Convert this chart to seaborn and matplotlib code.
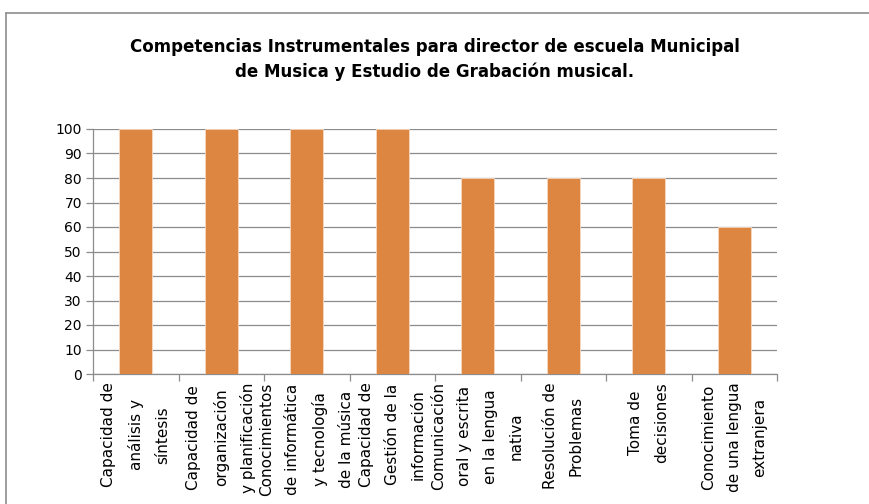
import matplotlib
matplotlib.use('Agg')
import matplotlib.pyplot as plt
import seaborn as sns
from matplotlib.lines import Line2D

categories = [
    'Capacidad de\nanálisis y\nsíntesis',
    'Capacidad de\norganización\ny planificación',
    'Conocimientos\nde informática\ny tecnología\nde la música',
    'Capacidad de\nGestión de la\ninformación',
    'Comunicación\noral y escrita\nen la lengua\nnativa',
    'Resolución de\nProblemas',
    'Toma de\ndecisiones',
    'Conocimiento\nde una lengua\nextranjera',
]
values = [100, 100, 100, 100, 80, 80, 80, 60]
yticks = list(range(0, 101, 10))

sns.set_style('white')
plt.rcParams['font.family'] = ['DejaVu Sans']
plt.rcParams['text.color'] = 'black'
plt.rcParams['xtick.color'] = 'black'
plt.rcParams['ytick.color'] = 'black'

fig = plt.figure(figsize=(8.69, 5.04), dpi=100)
ax = fig.add_axes([93 / 869, 1 - 374 / 504, (777 - 93) / 869, (374 - 129) / 504])

sns.barplot(x=list(range(len(values))), y=values, color='#DD8641', saturation=1,
            width=0.39, edgecolor='#F6D9C0', linewidth=0.6, ax=ax, zorder=3)

ax.set_ylim(0, 100)
ax.set_xlim(-0.5, len(values) - 0.5)
ax.set_yticks(yticks)
ax.set_yticklabels([str(t) for t in yticks], fontsize=10)
ax.yaxis.grid(True, color='#8C8C8C', linewidth=0.9, zorder=0)
ax.set_axisbelow(True)

# category labels, tick marks at category boundaries
ax.set_xticks(range(len(values)))
ax.set_xticklabels(categories, rotation=90, ha='center', va='top',
                   fontsize=11, linespacing=1.9, multialignment='center')
ax.tick_params(axis='x', which='major', bottom=True, length=0, pad=6)
ax.set_xticks([i - 0.5 for i in range(len(values) + 1)], minor=True)
ax.tick_params(axis='x', which='minor', bottom=True, length=5,
               color='#8C8C8C', width=0.9)
ax.tick_params(axis='y', length=5, color='#8C8C8C', labelcolor='black',
               width=0.9, left=True, pad=3)

for s in ['top', 'right']:
    ax.spines[s].set_visible(False)
for s in ['left', 'bottom']:
    ax.spines[s].set_color('#8C8C8C')
    ax.spines[s].set_linewidth(0.9)
ax.set_xlabel('')
ax.set_ylabel('')

fig.text(0.5, 1 - 47 / 504, 'Competencias Instrumentales para director de escuela Municipal',
         ha='center', va='center', fontsize=12, fontweight='bold')
fig.text(0.5, 1 - 72 / 504, 'de Musica y Estudio de Grabación musical.',
         ha='center', va='center', fontsize=12, fontweight='bold')

# outer chart frame
x0, y0 = 6 / 869, 1 - 13 / 504
fig.add_artist(Line2D([x0, x0], [0, y0], color='#8C8C8C', linewidth=1.2))
fig.add_artist(Line2D([x0, 1], [y0, y0], color='#8C8C8C', linewidth=1.2))

fig.savefig('out.png', dpi=100)
